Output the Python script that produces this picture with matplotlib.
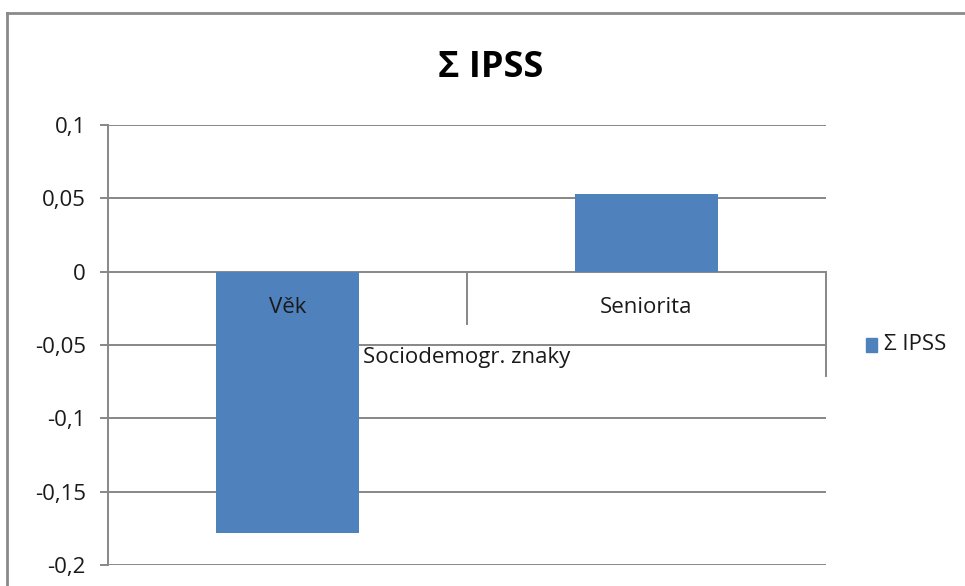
import matplotlib
matplotlib.use("Agg")
import matplotlib.pyplot as plt
from matplotlib.lines import Line2D
from matplotlib.patches import Rectangle

plt.rcParams['font.family'] = ['Open Sans', 'DejaVu Sans']

title = "Σ IPSS"
series_name = "Σ IPSS"
categories = ["Věk", "Seniorita"]
group_label = "Sociodemogr. znaky"
values = [-0.178, 0.053]
yticks = [-0.2, -0.15, -0.1, -0.05, 0, 0.05, 0.1]
ytick_labels = ["-0,2", "-0,15", "-0,1", "-0,05", "0", "0,05", "0,1"]

W, H = 965, 586
fig = plt.figure(figsize=(W / 100, H / 100), dpi=100)
fig.patch.set_facecolor("white")

L, R, T, B = 108, 826, 125, 565
ax = fig.add_axes([L / W, 1 - B / H, (R - L) / W, (B - T) / H])

bar_color = "#4F81BD"
grid_color = "#878787"
text_color = "#1a1a1a"
fs = 16
x = list(range(len(categories)))
ax.bar(x, values, width=0.4, color=bar_color, zorder=3, label=series_name)

ax.set_xlim(-0.5, len(categories) - 0.5)
ax.set_ylim(min(yticks), max(yticks))
ax.set_yticks(yticks)
ax.set_yticklabels(ytick_labels)
ax.yaxis.grid(True, color=grid_color, linewidth=1.4, zorder=0)
ax.set_axisbelow(True)
ax.set_xticks([])
for s in ["top", "right", "bottom"]:
    ax.spines[s].set_visible(False)
ax.spines["left"].set_color(grid_color)
ax.spines["left"].set_linewidth(1.4)
ax.tick_params(axis="y", length=6, width=1.4, color=grid_color, pad=10,
               labelsize=fs, labelcolor=text_color)

# category labels below zero line
for xi, c in zip(x, categories):
    ax.annotate(c, xy=(xi, 0), xytext=(0, -26), textcoords="offset points",
                ha="center", va="center", fontsize=fs, color=text_color)
ax.annotate(group_label, xy=(len(categories) / 2 - 0.5, 0), xytext=(0, -62),
            textcoords="offset points", ha="center", va="center",
            fontsize=fs, color=text_color)

# separator lines of multi-level category axis
def vline_px(xd, length_px):
    p0 = ax.transData.transform((xd, 0))
    fig.add_artist(Line2D([p0[0] / W, p0[0] / W],
                          [p0[1] / H, (p0[1] - length_px) / H],
                          transform=fig.transFigure, color=grid_color,
                          linewidth=1.4))
vline_px(0.5, 52)
vline_px(len(categories) - 0.5, 104)

fig.text(491 / W, 1 - 68 / H, title, fontsize=26, fontweight="bold",
         ha="center", va="center", color="black")

# legend
fig.add_artist(Rectangle((866 / W, 1 - 352 / H), 11 / W, 14 / H,
                         transform=fig.transFigure, color=bar_color))
fig.text(884 / W, 1 - 345 / H, series_name, fontsize=fs, ha="left",
         va="center", color=text_color)

# outer chart border (left and top visible)
fig.add_artist(Line2D([7 / W, 7 / W], [0, 1 - 13 / H], transform=fig.transFigure,
                      color="#8a8a8a", linewidth=2))
fig.add_artist(Line2D([7 / W, 1], [1 - 13 / H, 1 - 13 / H], transform=fig.transFigure,
                      color="#8a8a8a", linewidth=2))

fig.savefig("out.png", dpi=100)
